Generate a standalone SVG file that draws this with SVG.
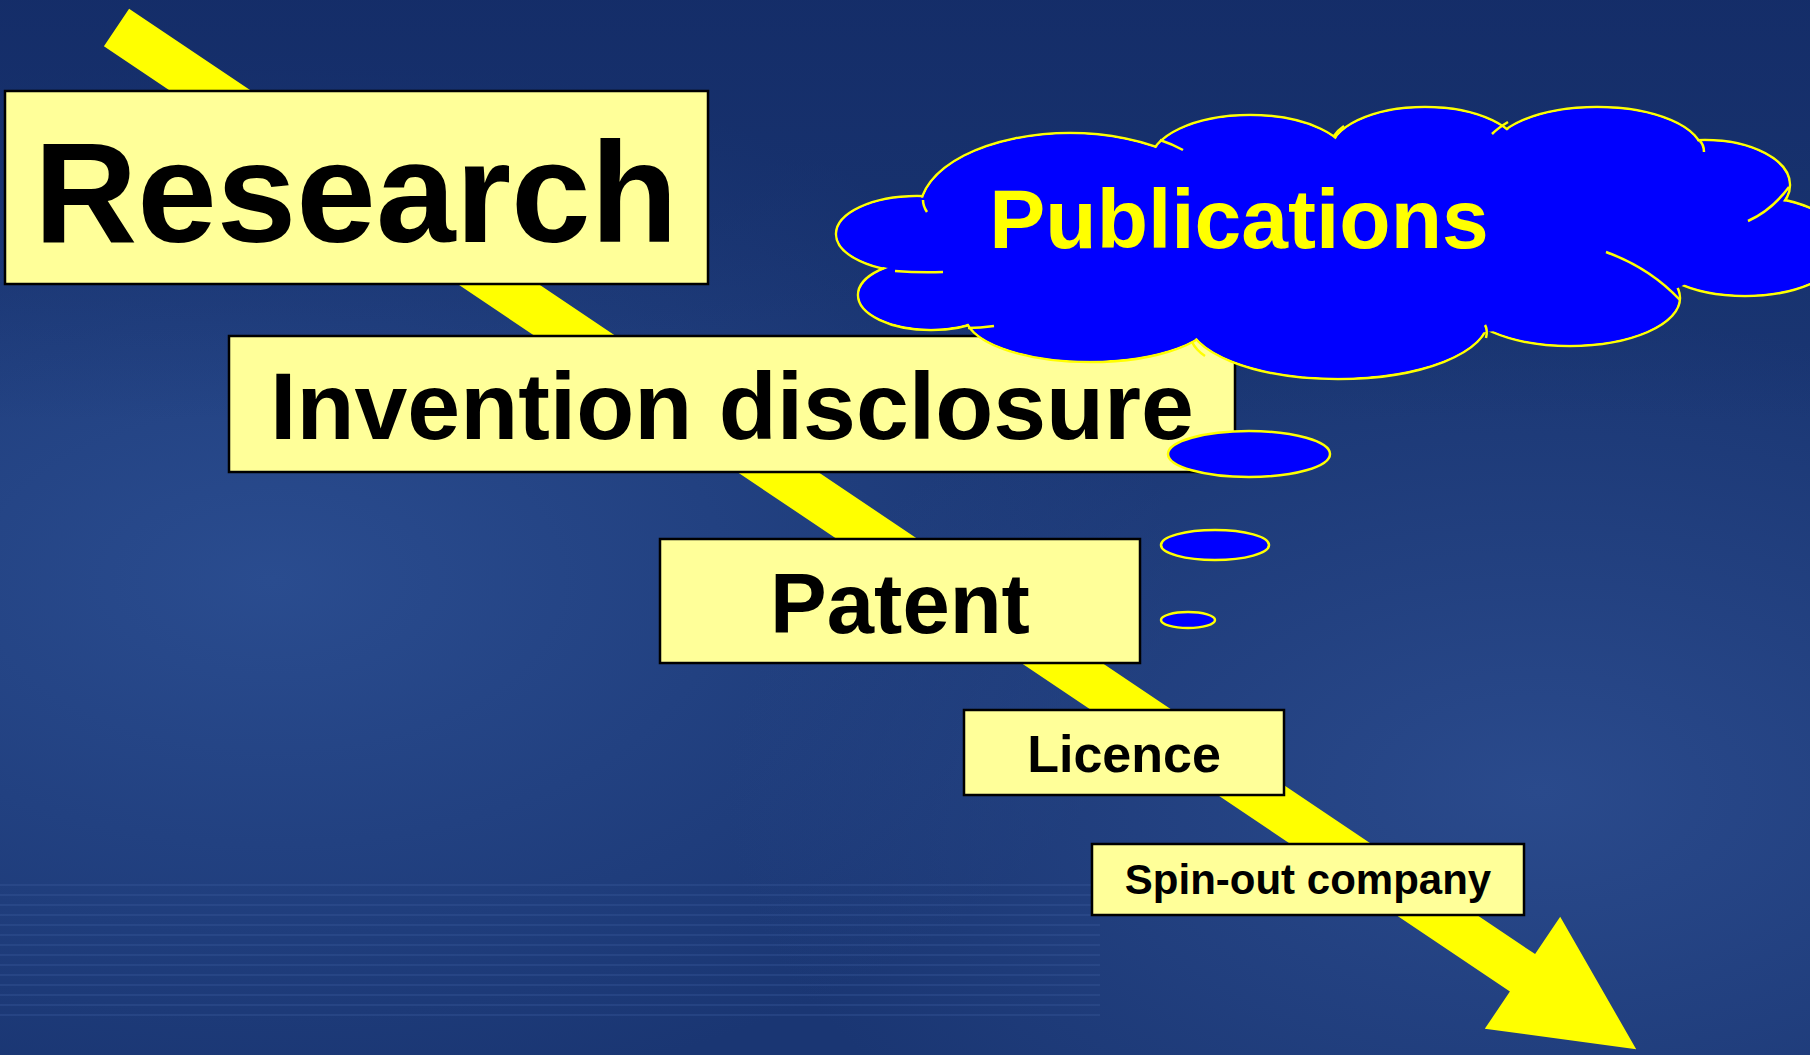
<svg xmlns="http://www.w3.org/2000/svg" width="1810" height="1055" viewBox="0 0 1810 1055">
<defs>
<style>
.box{fill:#FFFF99;stroke:#000;stroke-width:2.5}
.lbl{font-family:"Liberation Sans",Arial,sans-serif;font-weight:bold;fill:#000;text-anchor:middle}
.pub{font-family:"Liberation Sans",Arial,sans-serif;font-weight:bold;fill:#FFFF00;text-anchor:middle}
.lobe{fill:#0000FF;stroke:#FFFF00;stroke-width:2.5}
.fill{fill:#0000FF;stroke:none}
.hook{fill:none;stroke:#FFFF00;stroke-width:2.5}
.bub{fill:#0000FF;stroke:#FFFF00;stroke-width:2.5}
.stripe{stroke:#3a5a9c;stroke-width:2;opacity:0.35}
</style>
<radialGradient id="g1" cx="0.15" cy="0.55" r="0.5">
<stop offset="0" stop-color="#2a4c8f"/>
<stop offset="1" stop-color="#2a4c8f" stop-opacity="0"/>
</radialGradient>
<radialGradient id="g2" cx="0.85" cy="0.75" r="0.45">
<stop offset="0" stop-color="#2a4a8c"/>
<stop offset="1" stop-color="#2a4a8c" stop-opacity="0"/>
</radialGradient>
<linearGradient id="g3" x1="0" y1="0" x2="0" y2="1">
<stop offset="0" stop-color="#132b66" stop-opacity="0.8"/>
<stop offset="0.4" stop-color="#132b66" stop-opacity="0"/>
</linearGradient>
</defs>
<g id="background">
<rect x="0" y="0" width="1810" height="1055" fill="#1a3673"/>
<rect x="0" y="0" width="1810" height="1055" fill="url(#g1)"/>
<rect x="0" y="0" width="1810" height="1055" fill="url(#g2)"/>
<rect x="0" y="0" width="1810" height="1055" fill="url(#g3)"/>
<g class="stripe">
<line x1="0" y1="885" x2="1100" y2="885"/>
<line x1="0" y1="895" x2="1100" y2="895"/>
<line x1="0" y1="905" x2="1100" y2="905"/>
<line x1="0" y1="915" x2="1100" y2="915"/>
<line x1="0" y1="925" x2="1100" y2="925"/>
<line x1="0" y1="935" x2="1100" y2="935"/>
<line x1="0" y1="945" x2="1100" y2="945"/>
<line x1="0" y1="955" x2="1100" y2="955"/>
<line x1="0" y1="965" x2="1100" y2="965"/>
<line x1="0" y1="975" x2="1100" y2="975"/>
<line x1="0" y1="985" x2="1100" y2="985"/>
<line x1="0" y1="995" x2="1100" y2="995"/>
<line x1="0" y1="1005" x2="1100" y2="1005"/>
<line x1="0" y1="1015" x2="1100" y2="1015"/>
</g>
</g>
<g id="connectors">
<polygon points="129.1,8.8 1535.1,954.1 1560.2,916.8 1636.2,1049.2 1484.8,1028.8 1509.9,991.5 103.9,46.2" fill="#FFFF00"/>
</g>
<g id="research">
<rect class="box" x="5" y="91" width="703" height="193"/>
<text class="lbl" x="356" y="242" font-size="143">Research</text>
</g>
<g id="invention">
<rect class="box" x="229" y="336" width="1006" height="136"/>
<text class="lbl" x="732" y="439" font-size="95">Invention disclosure</text>
</g>
<g id="patent">
<rect class="box" x="660" y="539" width="480" height="124"/>
<text class="lbl" x="900" y="633" font-size="85">Patent</text>
</g>
<g id="licence">
<rect class="box" x="964" y="710" width="320" height="85"/>
<text class="lbl" x="1124" y="772" font-size="52">Licence</text>
</g>
<g id="spinout">
<rect class="box" x="1092" y="844" width="432" height="71"/>
<text class="lbl" x="1308" y="894" font-size="42">Spin-out company</text>
</g>
<g id="publications">
<g>
<ellipse class="lobe" cx="917" cy="234" rx="81" ry="38"/>
<ellipse class="lobe" cx="931" cy="295" rx="73" ry="35"/>
<ellipse class="lobe" cx="1090" cy="315" rx="125" ry="47"/>
<ellipse class="lobe" cx="1338" cy="320" rx="150" ry="59"/>
<ellipse class="lobe" cx="1570" cy="298" rx="110" ry="48"/>
<ellipse class="lobe" cx="1745" cy="246" rx="100" ry="50"/>
<ellipse class="lobe" cx="1705" cy="185" rx="85" ry="45"/>
<ellipse class="lobe" cx="1597" cy="152" rx="105" ry="45"/>
<ellipse class="lobe" cx="1425" cy="152" rx="95" ry="45"/>
<ellipse class="lobe" cx="1250" cy="162" rx="100" ry="47"/>
<ellipse class="lobe" cx="1070" cy="210" rx="150" ry="77"/>
</g>
<g>
<ellipse class="fill" cx="917" cy="234" rx="79.5" ry="36.5"/>
<ellipse class="fill" cx="931" cy="295" rx="71.5" ry="33.5"/>
<ellipse class="fill" cx="1090" cy="315" rx="123.5" ry="45.5"/>
<ellipse class="fill" cx="1338" cy="320" rx="148.5" ry="57.5"/>
<ellipse class="fill" cx="1570" cy="298" rx="108.5" ry="46.5"/>
<ellipse class="fill" cx="1745" cy="246" rx="98.5" ry="48.5"/>
<ellipse class="fill" cx="1705" cy="185" rx="83.5" ry="43.5"/>
<ellipse class="fill" cx="1597" cy="152" rx="103.5" ry="43.5"/>
<ellipse class="fill" cx="1425" cy="152" rx="93.5" ry="43.5"/>
<ellipse class="fill" cx="1250" cy="162" rx="98.5" ry="45.5"/>
<ellipse class="fill" cx="1070" cy="210" rx="148.5" ry="75.5"/>
<ellipse class="fill" cx="1330" cy="245" rx="390" ry="95"/>
</g>
<g>
<path class="hook" d="M 895,271 Q 920,273 943,272"/>
<path class="hook" d="M 923,200 Q 923,206 927,212"/>
<path class="hook" d="M 1160,140 Q 1172,144 1183,150"/>
<path class="hook" d="M 1334,136 Q 1338,130 1344,126"/>
<path class="hook" d="M 1492,134 Q 1498,128 1508,122"/>
<path class="hook" d="M 1700,141 Q 1704,145 1704,152"/>
<path class="hook" d="M 1789,187 Q 1772,210 1748,221"/>
<path class="hook" d="M 1606,252 Q 1650,268 1680,300"/>
<path class="hook" d="M 1485,325 Q 1488,330 1486,338"/>
<path class="hook" d="M 1192,342 Q 1196,350 1205,356"/>
<path class="hook" d="M 968,328 Q 980,328 994,326"/>
</g>
<text class="pub" x="1239" y="248" font-size="84">Publications</text>
</g>
<g id="bubbles">
<ellipse class="bub" cx="1249" cy="454" rx="81" ry="23"/>
<ellipse class="bub" cx="1215" cy="545" rx="54" ry="15"/>
<ellipse class="bub" cx="1188" cy="620" rx="27" ry="8"/>
</g>
</svg>
